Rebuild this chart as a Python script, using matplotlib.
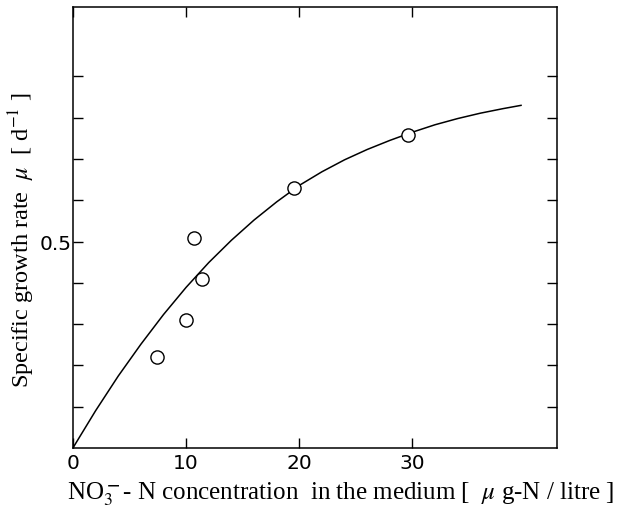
import matplotlib.pyplot as plt
from matplotlib.ticker import FixedLocator

plt.rcParams['font.family'] = ['Liberation Serif', 'DejaVu Serif']
plt.rcParams['mathtext.fontset'] = 'stix'

conc = [7.45, 10.0, 11.4, 10.7, 19.55, 29.6]
rate = [0.220, 0.309, 0.408, 0.509, 0.630, 0.759]

# fitted curve, read at regular steps along the drawn line
curve_x = [0, 2, 4, 6, 8, 10, 12, 14, 16, 18, 20, 22, 24, 26, 28, 30, 32, 34, 36, 38, 39.6]
curve_y = [0, 0.090, 0.174, 0.251, 0.323, 0.389, 0.449, 0.503, 0.552, 0.596, 0.636,
           0.669, 0.698, 0.723, 0.745, 0.765, 0.783, 0.798, 0.811, 0.822, 0.830]

fig = plt.figure(figsize=(6.24, 5.10), dpi=100)
ax = fig.add_axes([0.117, 0.12, 0.776, 0.864])

ax.plot(curve_x, curve_y, color='black', lw=1.1, zorder=2)
ax.plot(conc, rate, 'o', ms=9.5, mfc='white', mec='black', mew=1.0, zorder=3)

ax.set_xlim(0, 42.8)
ax.set_ylim(0, 1.068)

ax.xaxis.set_major_locator(FixedLocator([0, 10, 20, 30]))
ax.yaxis.set_major_locator(FixedLocator([0.5]))
ax.yaxis.set_minor_locator(FixedLocator([0.1, 0.2, 0.3, 0.4, 0.6, 0.7, 0.8, 0.9]))
ax.set_yticklabels(['0.5'])
ax.tick_params(which='both', direction='in', top=True, right=True, width=1.0)
ax.tick_params(which='major', length=7, labelsize=14.5)
ax.tick_params(axis='x', which='major', pad=4)
ax.tick_params(axis='y', which='major', pad=1)
ax.tick_params(which='minor', length=7)
for lab in ax.get_xticklabels() + ax.get_yticklabels():
    lab.set_family('DejaVu Sans')

for s in ax.spines.values():
    s.set_linewidth(1.1)

ax.set_xlabel(r'NO$_3^{\bf -}$- N concentration  in the medium [  $\mu$ g-N / litre ]',
              fontsize=18)
ax.set_ylabel(r'Specific growth rate  $\mu$  [ d$^{-1}$ ]', fontsize=17.5)
ax.xaxis.set_label_coords(0.553, -0.072)
ax.yaxis.set_label_coords(-0.074, 0.474)

fig.savefig('out.png', dpi=100)
